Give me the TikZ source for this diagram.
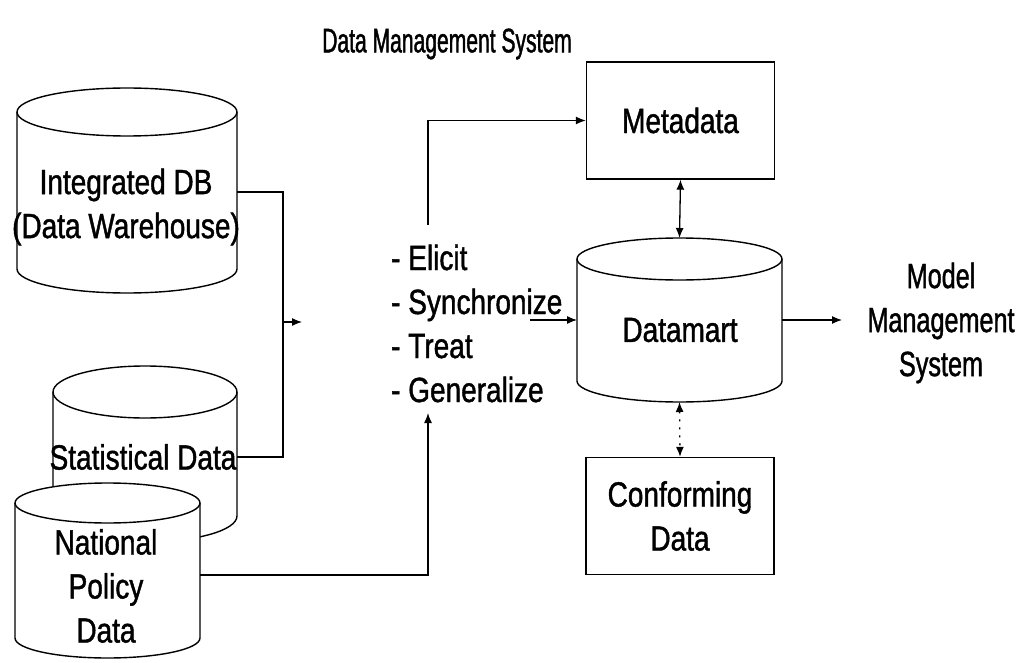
\documentclass[tikz,border=0pt]{standalone}
\usepackage{fontspec}
\setmainfont[FakeStretch=0.8, FakeBold=1.2]{Liberation Sans}
\newfontfamily\headfont[FakeStretch=0.62, FakeBold=1.2]{Liberation Sans}
\newfontfamily\narrowfont[FakeStretch=0.72, FakeBold=1.2]{Liberation Sans}
\usetikzlibrary{arrows.meta,calc}

\tikzset{
  conn/.style={line width=1.3pt},
  arr/.style={conn,-{Latex[length=10pt,width=8pt]}},
  darr/.style={conn,{Latex[length=10pt,width=8pt]}-{Latex[length=10pt,width=8pt]}},
  lbl/.style={font=\fontsize{35}{44}\selectfont, align=center, inner sep=0pt},
  boxnode/.style={draw, line width=1.4pt, minimum width=188pt, minimum height=117pt,
    font=\fontsize{35}{44}\selectfont, align=center},
  body/.style={inner sep=0pt, outer sep=0pt},
}

% cylinder outline: left, right, top, bottom, radius of the end ellipses
\newcommand\drawcyl[5]{%
  \pgfmathsetmacro\cylrx{(#2-#1)/2}
  \draw[line width=1.4pt, fill=white]
    (#1,#3+#5) -- (#1,#4-#5)
    arc[start angle=180, end angle=360, x radius=\cylrx pt, y radius=#5pt]
    -- (#2,#3+#5)
    arc[start angle=0, end angle=180, x radius=\cylrx pt, y radius=#5pt] -- cycle;
  \draw[line width=1.4pt]
    (#1,#3+#5) arc[start angle=180, end angle=360, x radius=\cylrx pt, y radius=#5pt];
}

\begin{document}
\begin{tikzpicture}[x=1pt, y=-1pt]
  \fill[white] (0,0) rectangle (1022,663);
  \useasboundingbox (0,0) rectangle (1022,663);

  % title
  \node[font=\headfont\fontsize{34}{38}\selectfont, inner sep=0pt] (title) at (447,44) {Data Management System};

  % source databases
  \drawcyl{17}{237}{88}{293}{24}
  \drawcyl{53}{237}{366}{542}{26}
  \drawcyl{15}{200}{483}{658}{20}
  \node[body, minimum width=220pt, minimum height=150pt] (idb) at (127,192) {};
  \node[body, minimum width=184pt, minimum height=150pt] (stat) at (145,457) {};
  \node[body, minimum width=185pt, minimum height=150pt] (nat) at (107.5,575) {};
  \node[lbl] (idbt) at (126,207) {Integrated DB\\(Data Warehouse)};
  \node[lbl] (statt) at (143,457) {Statistical Data};
  \node[lbl] (natt) at (106,586) {National\\Policy\\Data};

  % datamart
  \drawcyl{577}{782}{238}{402}{21}
  \node[body, minimum width=205pt, minimum height=164pt] (dm) at (679.5,320) {};
  \node[lbl] (dmt) at (680,330) {Datamart};

  % boxes
  \node[boxnode] (meta) at (680.5,120.5) {Metadata};
  \node[boxnode] (conf) at (680,516) {Conforming\\Data};

  % processing steps
  \node[lbl, align=left, anchor=west] (proc) at (391,323.5)
    {- Elicit\\- Synchronize\\- Treat\\- Generalize};

  % model management
  \node[lbl, font=\narrowfont\fontsize{35}{44}\selectfont] (mms) at (941,323) {Model\\Management\\System};

  % connectors
  \coordinate (merge) at (283,322);
  \coordinate (mergeend) at (302,322);
  \coordinate (pout) at (428,225);
  \coordinate (pin) at (428,413);
  \coordinate (sy) at (530,320);
  \coordinate (mmsin) at (842,320);

  \draw[conn] (idb.east) -| (merge);
  \draw[conn] (stat.east) -| (merge);
  \draw[arr] (merge) -- (mergeend);
  \draw[arr] (nat.east) -| (pin);
  \draw[arr] (pout) |- (meta.west);
  \draw[arr] (sy) -- (dm.west);
  \draw[darr] (meta.south) -- (dm.north);
  \draw[darr, dash pattern=on 2pt off 6pt] (dm.south) -- (conf.north);
  \draw[arr] (dm.east) -- (mmsin);
\end{tikzpicture}
\end{document}
